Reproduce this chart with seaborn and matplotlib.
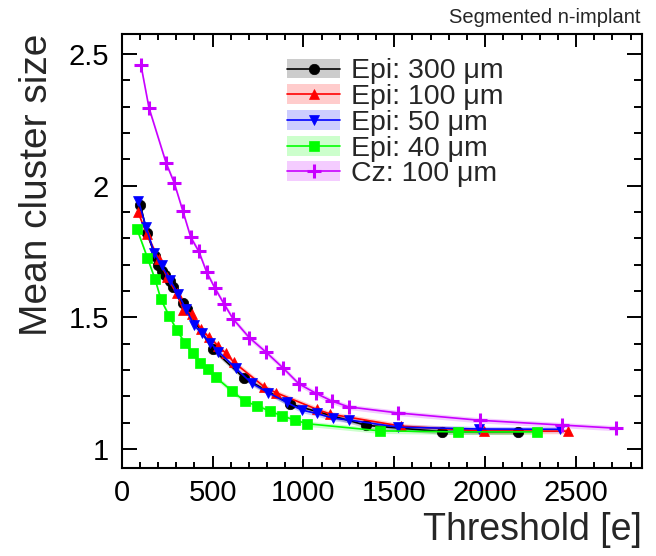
"""Mean cluster size vs threshold for different sensor materials."""

import matplotlib

matplotlib.use("Agg")

import matplotlib.pyplot as plt
import seaborn as sns
from matplotlib.lines import Line2D
from matplotlib.patches import Patch
from matplotlib.ticker import FuncFormatter, MultipleLocator

# Epi: 300 um
thr_epi300 = [103, 138, 185, 200, 220, 238, 266, 285, 336, 358, 501, 671, 926, 1344, 1761, 2182]
mcs_epi300 = [1.928, 1.821, 1.733, 1.699, 1.676, 1.661, 1.638, 1.617, 1.553, 1.531, 1.379,
              1.271, 1.171, 1.090, 1.066, 1.066]

# Epi: 100 um
thr_epi100 = [90, 139, 203, 249, 302, 339, 387, 435, 482, 532, 574, 618, 783, 849, 1073,
              1146, 1535, 1995, 2458]
mcs_epi100 = [1.899, 1.815, 1.722, 1.653, 1.591, 1.528, 1.513, 1.455, 1.424, 1.391, 1.363,
              1.329, 1.237, 1.214, 1.151, 1.133, 1.087, 1.068, 1.068]

# Epi: 50 um
thr_epi50 = [92, 134, 179, 220, 266, 311, 354, 398, 440, 486, 532, 629, 715, 807, 908, 991,
             1073, 1164, 1252, 1522, 1965, 2412]
mcs_epi50 = [1.943, 1.843, 1.744, 1.697, 1.642, 1.589, 1.531, 1.471, 1.439, 1.404, 1.370,
             1.306, 1.250, 1.214, 1.177, 1.148, 1.135, 1.117, 1.110, 1.083, 1.076, 1.075]

# Epi: 40 um
thr_epi40 = [84, 141, 183, 216, 260, 303, 347, 391, 431, 475, 519, 607, 679, 745, 816, 882,
             952, 1021, 1421, 1849, 2284]
mcs_epi40 = [1.836, 1.727, 1.646, 1.568, 1.507, 1.452, 1.404, 1.363, 1.328, 1.303, 1.272,
             1.220, 1.181, 1.164, 1.144, 1.126, 1.110, 1.096, 1.069, 1.065, 1.065]

# Cz: 100 um
thr_cz100 = [106, 150, 245, 289, 336, 380, 424, 468, 513, 563, 614, 702, 794, 886, 976, 1068,
             1157, 1249, 1520, 1972, 2423, 2720]
mcs_cz100 = [2.458, 2.296, 2.085, 2.011, 1.905, 1.804, 1.751, 1.671, 1.611, 1.551, 1.493,
             1.423, 1.368, 1.309, 1.247, 1.212, 1.182, 1.160, 1.137, 1.109, 1.091, 1.079]

labels = ["Epi: 300 μm", "Epi: 100 μm", "Epi: 50 μm", "Epi: 40 μm", "Cz: 100 μm"]
band_halfwidth = 0.01

series = [
    (thr_epi300, mcs_epi300, "#000000", "o"),
    (thr_epi100, mcs_epi100, "#ff0000", "^"),
    (thr_epi50, mcs_epi50, "#0000ff", "v"),
    (thr_epi40, mcs_epi40, "#00ff00", "s"),
    (thr_cz100, mcs_cz100, "#c800ff", "+"),
]

sns.set_style("ticks")
plt.rcParams["font.family"] = ["Liberation Sans", "DejaVu Sans"]

fig = plt.figure(figsize=(6.56, 5.56), dpi=100)
ax = fig.add_axes([0.1855, 0.1588, 0.7932, 0.78])


def marker_style(marker, color):
    if marker == "+":
        return dict(marker="+", markersize=10, markeredgewidth=2.2, markeredgecolor=color)
    return dict(marker=marker, markersize=7.5, markeredgewidth=0.5, markeredgecolor=color)


handles = []
for (x, y, color, marker), label in zip(series, labels):
    lo = [v - band_halfwidth for v in y]
    hi = [v + band_halfwidth for v in y]
    ax.fill_between(x, lo, hi, facecolor=color, alpha=0.2, linewidth=0)
    sns.lineplot(
        x=x, y=y, ax=ax, color=color, linewidth=1.2, sort=False, estimator=None,
        legend=False, **marker_style(marker, color),
    )
    band = Patch(facecolor=color, alpha=0.2, edgecolor="none")
    line = Line2D([], [], color=color, linewidth=1.2, **marker_style(marker, color))
    handles.append((band, line))

ax.set_xlim(0, 2863)
ax.set_ylim(0.929, 2.576)

ax.xaxis.set_major_locator(MultipleLocator(500))
ax.xaxis.set_minor_locator(MultipleLocator(100))
ax.yaxis.set_major_locator(MultipleLocator(0.5))
ax.yaxis.set_minor_locator(MultipleLocator(0.1))
ax.yaxis.set_major_formatter(FuncFormatter(lambda v, _: f"{v:g}"))

ax.tick_params(which="both", direction="in", top=True, right=True, width=1.4,
               labelsize=21, color="black", labelcolor="black")
ax.tick_params(axis="x", which="major", length=9, pad=8)
ax.tick_params(axis="x", which="minor", length=4.5)
ax.tick_params(axis="y", which="major", length=11, pad=9)
ax.tick_params(axis="y", which="minor", length=5.5)
for spine in ax.spines.values():
    spine.set_visible(True)
    spine.set_linewidth(1.5)
    spine.set_color("black")

ax.set_xlabel("Threshold [e]", fontsize=27, loc="right", labelpad=4)
ax.set_ylabel("Mean cluster size", fontsize=28, loc="top", labelpad=10)

ax.legend(
    handles, labels, loc="upper left", bbox_to_anchor=(0.28, 0.9896), frameon=False,
    fontsize=20.5, handlelength=1.85, handleheight=0.7, handletextpad=0.4,
    labelspacing=-0.01, borderpad=0.2,
)

fig.text(0.976, 0.968, "Segmented n-implant", ha="right", va="center", fontsize=14.5)

fig.savefig("out.png", dpi=100)
plt.close(fig)
